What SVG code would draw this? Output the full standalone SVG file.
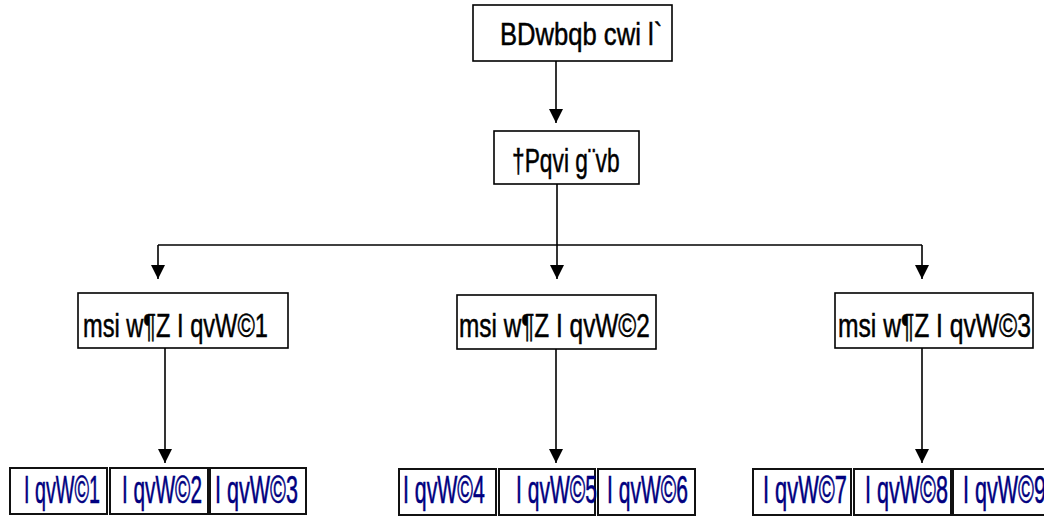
<svg xmlns="http://www.w3.org/2000/svg" width="1044" height="516" viewBox="0 0 1044 516">
<style>
.box{fill:#fff;stroke:#000;stroke-width:1.6}
.bbox{fill:#fff;stroke:#111;stroke-width:2}
.t{font-family:"Liberation Sans",Arial,sans-serif;fill:#000;stroke:#000;stroke-width:0.5}
.b{font-family:"Liberation Sans",Arial,sans-serif;fill:#000080;stroke:#000080;stroke-width:0.6;font-size:38px}
.ln{stroke:#000;stroke-width:1.6;fill:none}
</style>
<defs>
<marker id="ah" markerUnits="userSpaceOnUse" markerWidth="16" markerHeight="16" viewBox="0 0 16 16" refX="15" refY="8" orient="auto">
<path d="M1,1 L15,8 L1,15 Z" fill="#000"/>
</marker>
</defs>
<g id="connectors">
<line class="ln" x1="556" y1="61" x2="556" y2="123" marker-end="url(#ah)"/>
<line class="ln" x1="557" y1="184" x2="557" y2="245"/>
<line class="ln" x1="158" y1="245" x2="922" y2="245"/>
<line class="ln" x1="158" y1="245" x2="158" y2="279" marker-end="url(#ah)"/>
<line class="ln" x1="557" y1="245" x2="557" y2="279" marker-end="url(#ah)"/>
<line class="ln" x1="922" y1="245" x2="922" y2="279" marker-end="url(#ah)"/>
<line class="ln" x1="165" y1="348" x2="165" y2="463" marker-end="url(#ah)"/>
<line class="ln" x1="556" y1="349" x2="556" y2="463" marker-end="url(#ah)"/>
<line class="ln" x1="922" y1="348" x2="922" y2="463" marker-end="url(#ah)"/>
</g>
<g id="n-top"><rect class="box" x="473" y="5" width="199" height="56"/><text class="t" font-size="31" transform="translate(500,45) scale(0.826,1)">BDwbqb cwi l`</text></g>
<g id="n-chair"><rect class="box" x="494" y="131" width="145" height="53"/><text class="t" font-size="33" transform="translate(512,172) scale(0.69,1)">†Pqvi g¨vb</text></g>
<g id="n-r1"><rect class="box" x="78" y="293" width="210" height="55"/><text class="t" font-size="33" transform="translate(83,337) scale(0.716,1)">msi w¶Z I qvW©1</text></g>
<g id="n-r2"><rect class="box" x="457" y="295" width="199" height="54"/><text class="t" font-size="33" transform="translate(459,337) scale(0.739,1)">msi w¶Z I qvW©2</text></g>
<g id="n-r3"><rect class="box" x="835" y="293" width="198" height="55"/><text class="t" font-size="33" transform="translate(838,337) scale(0.747,1)">msi w¶Z I qvW©3</text></g>
<g id="n-w1"><rect class="bbox" x="10" y="468" width="97" height="46"/><text class="b" transform="translate(24,503) scale(0.52,1)">I qvW©1</text></g>
<g id="n-w2"><rect class="bbox" x="110" y="468" width="98" height="46"/><text class="b" transform="translate(122,503) scale(0.547,1)">I qvW©2</text></g>
<g id="n-w3"><rect class="bbox" x="210" y="468" width="96" height="46"/><text class="b" transform="translate(215,503) scale(0.567,1)">I qvW©3</text></g>
<g id="n-w4"><rect class="bbox" x="399" y="469" width="97" height="46"/><text class="b" transform="translate(403,503) scale(0.56,1)">I qvW©4</text></g>
<g id="n-w5"><rect class="bbox" x="499" y="469" width="96" height="46"/><text class="b" transform="translate(516,503) scale(0.554,1)">I qvW©5</text></g>
<g id="n-w6"><rect class="bbox" x="598" y="469" width="97" height="46"/><text class="b" transform="translate(607,503) scale(0.554,1)">I qvW©6</text></g>
<g id="n-w7"><rect class="bbox" x="753" y="469" width="98" height="46"/><text class="b" transform="translate(763,503) scale(0.574,1)">I qvW©7</text></g>
<g id="n-w8"><rect class="bbox" x="854" y="469" width="97" height="46"/><text class="b" transform="translate(865,503) scale(0.567,1)">I qvW©8</text></g>
<g id="n-w9"><rect class="bbox" x="953" y="469" width="97" height="46"/><text class="b" transform="translate(963,503) scale(0.567,1)">I qvW©9</text></g>
</svg>
